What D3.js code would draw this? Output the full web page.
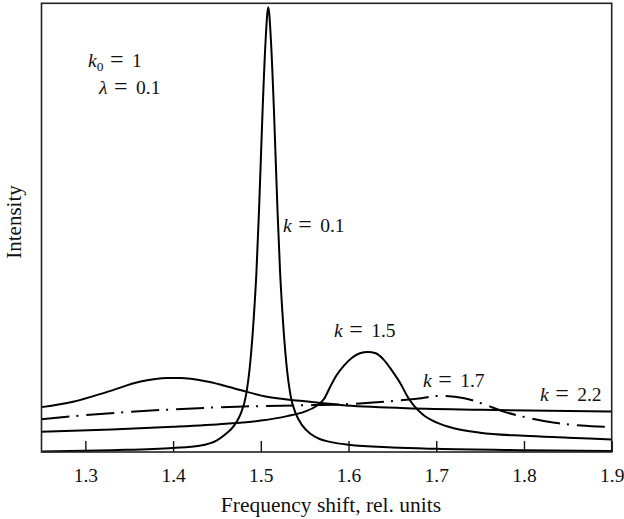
<!DOCTYPE html>
<html>
<head>
<meta charset="utf-8">
<script src="https://cdn.jsdelivr.net/npm/d3@7"></script>
<style>
  body { margin: 0; background: #fff; }
  text { font-family: "Liberation Serif", "Times New Roman", serif; fill: #111; }
</style>
</head>
<body>
<svg id="chart"></svg>
<script>
const dims = { width: 624, height: 519 }
const frame = { left: 41.5, right: 611.7, top: 3.3, bottom: 452 }

// x values (frequency shift) and intensities
const k01X = [1.25, 1.33, 1.40, 1.43, 1.45, 1.46, 1.47, 1.477, 1.483, 1.488, 1.492, 1.495, 1.498, 1.502, 1.5054, 1.5085,
  1.5116, 1.515, 1.519, 1.522, 1.525, 1.529, 1.534, 1.540, 1.547, 1.557, 1.567, 1.58, 1.60, 1.65, 1.70, 1.80, 1.90]
const k01Y = [0.1, 0.4, 0.9, 1.4, 2.6, 4.0, 6.0, 8.5, 12.5, 20, 30, 40, 54, 76, 91.5, 99.1,
  91.5, 76, 54, 40, 30, 20, 12.5, 8.5, 6.0, 4.0, 2.9, 2.2, 1.6, 1.0, 0.7, 0.4, 0.2]

const k15X = [1.25, 1.33, 1.40, 1.46, 1.50, 1.53, 1.55, 1.563, 1.572, 1.579, 1.586, 1.595, 1.604, 1.613, 1.622,
  1.631, 1.640, 1.650, 1.660, 1.667, 1.675, 1.685, 1.70, 1.72, 1.75, 1.80, 1.85, 1.90]
const k15Y = [4.5, 5.0, 5.6, 6.3, 7.0, 8.0, 9.0, 10.2, 11.8, 14.5, 17.0, 19.3, 21.0, 22.0, 22.3,
  22.0, 20.6, 18.0, 15.0, 12.4, 10.2, 8.3, 6.6, 5.3, 4.3, 3.6, 3.2, 2.8]

const k17X = [1.25, 1.325, 1.40, 1.473, 1.545, 1.591, 1.652, 1.683, 1.703, 1.732, 1.755, 1.777, 1.805, 1.835, 1.865, 1.894]
const k17Y = [7.3, 8.6, 9.5, 10.1, 10.4, 10.6, 11.4, 12.0, 12.5, 12.0, 10.6, 9.0, 7.6, 6.5, 5.9, 5.6]

const k22X = [1.25, 1.286, 1.325, 1.363, 1.393, 1.408, 1.439, 1.473, 1.507, 1.545, 1.591, 1.660, 1.751, 1.90]
const k22Y = [10.0, 11.2, 13.4, 15.7, 16.5, 16.5, 15.7, 14.0, 12.3, 11.4, 10.5, 9.8, 9.4, 9.0]

const xTicks = [1.3, 1.4, 1.5, 1.6, 1.7, 1.8, 1.9]

const series = [
  { name: 'k01', xs: k01X, ys: k01Y, dash: null },
  { name: 'k15', xs: k15X, ys: k15Y, dash: null },
  { name: 'k17', xs: k17X, ys: k17Y, dash: '28,7,2,8' },
  { name: 'k22', xs: k22X, ys: k22Y, dash: null }
]

const svg = d3.select('#chart')
  .attr('width', dims.width)
  .attr('height', dims.height)

const x = d3.scaleLinear().domain([1.25, 1.9]).range([frame.left, frame.right])
const y = d3.scaleLinear().domain([0, 100]).range([frame.bottom, frame.top])

const line = d3.line()
  .x(d => x(d[0]))
  .y(d => y(d[1]))
  .curve(d3.curveMonotoneX)

// curves
svg.append('g')
  .selectAll('path')
  .data(series)
  .enter()
  .append('path')
  .attr('d', s => line(s.xs.map((v, i) => [v, s.ys[i]])))
  .attr('fill', 'none')
  .attr('stroke', '#000')
  .attr('stroke-width', 2)
  .attr('stroke-linejoin', 'round')
  .attr('stroke-dasharray', s => s.dash)

// frame
svg.append('rect')
  .attr('x', frame.left)
  .attr('y', frame.top)
  .attr('width', frame.right - frame.left)
  .attr('height', frame.bottom - frame.top)
  .attr('fill', 'none')
  .attr('stroke', '#222')
  .attr('stroke-width', 1.6)

// bottom axis, ticks pointing inward
const xAxis = d3.axisBottom(x)
  .tickValues(xTicks)
  .tickFormat(d3.format('.1f'))
  .tickSizeInner(-11)
  .tickSizeOuter(0)
  .tickPadding(16)

const axisG = svg.append('g')
  .attr('transform', `translate(0, ${frame.bottom})`)
  .call(xAxis)
axisG.attr('font-family', null)
axisG.select('.domain').remove()
axisG.selectAll('line').attr('stroke', '#111').attr('stroke-width', 1.4)
axisG.selectAll('text')
  .style('font-family', '"Liberation Serif", "Times New Roman", serif')
  .attr('font-size', 19.5)
  .attr('fill', '#111')

// axis titles
svg.append('text')
  .attr('x', 331)
  .attr('y', 512)
  .attr('text-anchor', 'middle')
  .attr('font-size', 21.5)
  .text('Frequency shift, rel. units')

svg.append('text')
  .attr('transform', `translate(21, 222) rotate(-90)`)
  .attr('text-anchor', 'middle')
  .attr('font-size', 21)
  .text('Intensity')

// in-plot labels: italic variable, optional subscript, wide "=" and value
const addLabel = (px, py, varName, sub, value) => {
  const t = svg.append('text')
    .attr('x', px)
    .attr('y', py)
    .attr('font-size', 19.5)
  t.append('tspan').attr('font-style', 'italic').text(varName)
  if (sub) {
    t.append('tspan').attr('font-size', 13.5).attr('dy', 4).text(sub)
    t.append('tspan').attr('font-size', 24).attr('dy', -4).attr('dx', 6.5).text('=')
  } else {
    t.append('tspan').attr('font-size', 24).attr('dx', 6.5).text('=')
  }
  t.append('tspan').attr('dx', 8.5).text(value)
}

addLabel(88, 67, 'k', '0', '1')
addLabel(99, 94, 'λ', null, '0.1')
addLabel(283, 232, 'k', null, '0.1')
addLabel(334, 337, 'k', null, '1.5')
addLabel(423, 387, 'k', null, '1.7')
addLabel(540, 401, 'k', null, '2.2')
</script>
</body>
</html>
